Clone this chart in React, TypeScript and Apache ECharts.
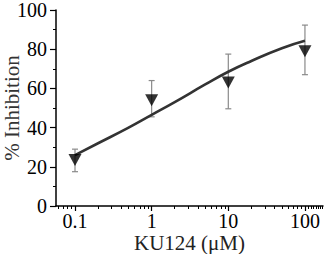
import React, { useEffect, useRef } from "react";
import * as echarts from "echarts";

const concentrations = [0.1, 1, 10, 100];
const inhibitionMean = [23.5, 54, 63, 79];
const errorUpper = [29, 64, 77.5, 92.3];
const errorLower = [17.5, 45.5, 49.6, 67];

const fitX = [0.1, 0.2, 0.5, 1, 2, 5, 10, 20, 50, 100];
const fitY = [26, 32, 40, 46.5, 53, 62, 68.5, 74, 80.5, 84.3];

const xMajorTicks = [0.1, 1, 10, 100];
const xMinorTicks = [
  0.06, 0.07, 0.08, 0.09,
  0.2, 0.3, 0.4, 0.5, 0.6, 0.7, 0.8, 0.9,
  2, 3, 4, 5, 6, 7, 8, 9,
  20, 30, 40, 50, 60, 70, 80, 90,
  110, 120, 130, 140, 150, 160, 170,
];

const X_MIN = 0.0565;
const X_MAX = 172;

export default function App() {
  const ref = useRef<HTMLDivElement>(null);
  useEffect(() => {
    if (!ref.current) return;
    const chart = echarts.init(ref.current, undefined, { renderer: "svg" });
    const font = "Liberation Serif";
    const baseX = {
      type: "log" as const,
      logBase: 10,
      min: X_MIN,
      max: X_MAX,
      position: "bottom" as const,
      splitLine: { show: false },
      axisLine: { lineStyle: { color: "#000", width: 1.5 } },
    };
    chart.setOption({
      animation: false,
      textStyle: { fontFamily: font },
      grid: { left: 56, right: 2, top: 10, bottom: 48, containLabel: false, outerBoundsMode: "none" },
      xAxis: [
        {
          ...baseX,
          name: "KU124 (μM)",
          nameLocation: "middle",
          nameGap: 26,
          nameMoveOverlap: false,
          nameTextStyle: { fontFamily: font, fontSize: 21, color: "#222" },
          axisTick: { customValues: xMajorTicks, length: 5, lineStyle: { color: "#000", width: 1.2 } },
          axisLabel: {
            customValues: xMajorTicks,
            fontFamily: font,
            fontSize: 20,
            color: "#000",
            margin: 5,
            formatter: (v: number) => String(v),
          },
        },
        {
          ...baseX,
          axisLine: { show: false },
          axisTick: { customValues: xMinorTicks, length: 3, lineStyle: { color: "#000", width: 1 } },
          axisLabel: { show: false },
        },
      ],
      yAxis: {
        type: "value",
        min: 0,
        max: 100,
        interval: 20,
        name: "% Inhibition",
        nameLocation: "middle",
        nameGap: 34,
        nameMoveOverlap: false,
        nameTextStyle: { fontFamily: font, fontSize: 21, color: "#333" },
        splitLine: { show: false },
        axisLine: { show: true, lineStyle: { color: "#000", width: 1.5 } },
        axisTick: { show: true, length: 6, lineStyle: { color: "#000", width: 1.2 } },
        minorTick: { show: true, splitNumber: 2, length: 3, lineStyle: { color: "#000", width: 1 } },
        minorSplitLine: { show: false },
        axisLabel: { fontFamily: font, fontSize: 20, color: "#000", margin: 9 },
      },
      series: [
        {
          type: "custom",
          xAxisIndex: 0,
          z: 1,
          data: concentrations.map((c, i) => [c, errorLower[i], errorUpper[i]]),
          renderItem: (params: any, api: any) => {
            const x = api.value(0);
            const lo = api.coord([x, api.value(1)]);
            const hi = api.coord([x, api.value(2)]);
            const cap = 3;
            const style = { stroke: "#8a8a8a", lineWidth: 1.2 };
            return {
              type: "group",
              children: [
                { type: "line", shape: { x1: lo[0], y1: lo[1], x2: hi[0], y2: hi[1] }, style },
                { type: "line", shape: { x1: hi[0] - cap, y1: hi[1], x2: hi[0] + cap, y2: hi[1] }, style },
                { type: "line", shape: { x1: lo[0] - cap, y1: lo[1], x2: lo[0] + cap, y2: lo[1] }, style },
              ],
            };
          },
        },
        {
          type: "line",
          xAxisIndex: 0,
          z: 2,
          smooth: true,
          symbol: "none",
          data: fitX.map((x, i) => [x, fitY[i]]),
          lineStyle: { color: "#333", width: 2.6 },
        },
        {
          type: "scatter",
          xAxisIndex: 0,
          z: 3,
          symbol: "triangle",
          symbolRotate: 180,
          symbolSize: [13, 12],
          itemStyle: { color: "#000" },
          data: concentrations.map((c, i) => [c, inhibitionMean[i]]),
        },
      ],
    });
    return () => chart.dispose();
  }, []);
  return <div ref={ref} style={{ width: 325, height: 254, position: "absolute", left: 0, top: 0 }} />;
}
